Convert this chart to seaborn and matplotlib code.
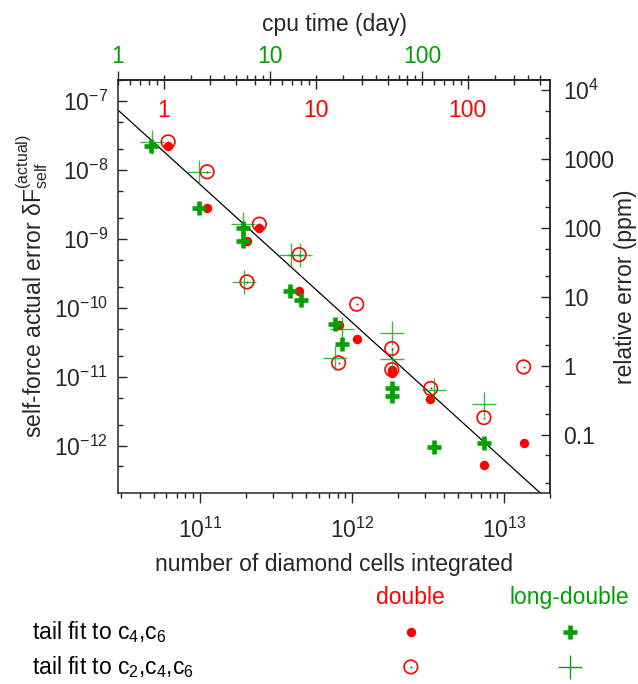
import matplotlib
matplotlib.use("Agg")
import matplotlib.pyplot as plt
import numpy as np
import seaborn as sns
from matplotlib.ticker import FixedLocator, FixedFormatter, LogLocator, LogFormatterMathtext, NullFormatter

# values: cells integrated vs. actual self-force error
ld_c46_cells = [4.74e10, 9.75e10, 1.91e11, 1.91e11, 3.91e11, 4.57e11, 7.73e11, 8.55e11, 1.82e12, 1.82e12, 3.43e12, 7.33e12]
ld_c46_err = [2.22e-8, 2.85e-9, 1.42e-9, 9.2e-10, 1.78e-10, 1.29e-10, 5.8e-11, 2.97e-11, 6.77e-12, 5.29e-12, 9.6e-13, 1.11e-12]

ld_c246_cells = [4.8e10, 9.75e10, 1.91e11, 1.93e11, 3.93e11, 4.5e11, 8.55e11, 7.66e11, 1.82e12, 1.82e12, 3.43e12, 7.33e12]
ld_c246_err = [2.56e-8, 9.42e-9, 1.64e-9, 2.38e-10, 5.92e-10, 5.92e-10, 4.96e-11, 1.88e-11, 4.25e-11, 1.84e-11, 6.54e-12, 4.09e-12]

d_c46_cells = [6.15e10, 1.11e11, 2.45e11, 2.03e11, 4.48e11, 8.13e11, 1.07e12, 1.82e12, 1.84e12, 3.26e12, 7.35e12, 1.34e13]
d_c46_err = [2.24e-8, 2.85e-9, 1.44e-9, 9.2e-10, 1.78e-10, 5.61e-11, 3.55e-11, 1.25e-11, 1.15e-11, 4.84e-12, 5.21e-13, 1.08e-12]

d_c246_cells = [6.15e10, 1.11e11, 2.45e11, 2.03e11, 4.48e11, 1.07e12, 8.13e11, 1.82e12, 1.82e12, 3.28e12, 7.35e12, 1.34e13]
d_c246_err = [2.56e-8, 9.42e-9, 1.64e-9, 2.38e-10, 5.92e-10, 1.13e-10, 1.59e-11, 2.57e-11, 1.27e-11, 6.77e-12, 2.56e-12, 1.39e-11]

# N^-2 reference line, two end points
line_cells = [2.88e10, 1.73e13]
line_err = [7.4e-8, 2.05e-13]

CELLS_PER_DAY_DOUBLE = 5.76e10
CELLS_PER_DAY_LONG = 2.88e10
ERR_PER_PPM = 1.45e-11

XLIM = (2.88e10, 2.0e13)
YLIM = (2.06e-13, 2.02e-7)

RED = "#ff0000"
GREEN = "#00a000"
FS = 16.5

sns.set_theme(style="ticks")
plt.rcParams["font.family"] = ["Liberation Sans", "DejaVu Sans"]
plt.rcParams["mathtext.fontset"] = "custom"
plt.rcParams["mathtext.rm"] = "Liberation Sans"
plt.rcParams["mathtext.it"] = "Liberation Sans:italic"
plt.rcParams["mathtext.bf"] = "Liberation Sans:bold"
plt.rcParams["axes.unicode_minus"] = False
plt.rcParams["axes.linewidth"] = 1.1
plt.rcParams["text.color"] = "black"

fig = plt.figure(figsize=(6.38, 6.84), dpi=100)
ax = fig.add_axes([0.185, 0.2792, 0.6771, 0.6038])
ax.set_xscale("log")
ax.set_yscale("log")

sns.lineplot(x=line_cells, y=line_err, color="black", linewidth=0.9, ax=ax)
sns.scatterplot(x=d_c246_cells, y=d_c246_err, marker="o", s=95, color=RED,
                facecolor="none", edgecolor=RED, linewidth=1.2, ax=ax, zorder=3)
sns.scatterplot(x=d_c246_cells, y=d_c246_err, marker="o", s=2, color=RED,
                linewidth=0, ax=ax, zorder=3)
sns.scatterplot(x=d_c46_cells, y=d_c46_err, marker="o", s=46, color=RED,
                linewidth=0, ax=ax, zorder=4)
sns.scatterplot(x=ld_c46_cells, y=ld_c46_err, marker="+", s=100, color=GREEN,
                linewidth=3.3, ax=ax, zorder=5)
sns.scatterplot(x=ld_c246_cells, y=ld_c246_err, marker="+", s=300, color=GREEN,
                linewidth=1.0, alpha=0.75, ax=ax, zorder=6)

ax.set_xlim(*XLIM)
ax.set_ylim(*YLIM)

# bottom axis
ax.xaxis.set_major_locator(FixedLocator([1e11, 1e12, 1e13]))
ax.xaxis.set_major_formatter(LogFormatterMathtext())
ax.xaxis.set_minor_locator(LogLocator(base=10, subs=np.arange(2, 10)))
ax.xaxis.set_minor_formatter(NullFormatter())
ax.tick_params(axis="x", which="both", direction="out", top=False, labelsize=FS, pad=11)
ax.tick_params(axis="x", which="major", length=7, width=1.0)
ax.tick_params(axis="x", which="minor", length=3.5, width=1.0)
ax.set_xlabel("number of diamond cells integrated", fontsize=FS, labelpad=7)

# left axis
ax.yaxis.set_major_locator(FixedLocator([1e-12, 1e-11, 1e-10, 1e-9, 1e-8, 1e-7]))
ax.yaxis.set_major_formatter(LogFormatterMathtext())
ax.yaxis.set_minor_locator(LogLocator(base=10, subs=(2, 5)))
ax.yaxis.set_minor_formatter(NullFormatter())
ax.tick_params(axis="y", which="both", direction="in", right=False, labelsize=FS, pad=7)
ax.tick_params(axis="y", which="major", length=6.5, width=1.0)
ax.tick_params(axis="y", which="minor", length=3.5, width=1.0)
ax.set_ylabel("self-force actual error δ$\\mathrm{F}_{\\mathrm{self}}^{\\mathrm{(actual)}}$",
              fontsize=FS, labelpad=3)

# right axis: relative error in ppm
rax = ax.secondary_yaxis("right", functions=(lambda f: np.asarray(f) / ERR_PER_PPM,
                                             lambda p: np.asarray(p) * ERR_PER_PPM))
rax.yaxis.set_major_locator(FixedLocator([0.1, 1, 10, 100, 1000, 1e4]))
rax.yaxis.set_major_formatter(FixedFormatter(["0.1", "1", "10", "100", "1000", "$10^4$"]))
rax.yaxis.set_minor_locator(LogLocator(base=10, subs=(2, 5)))
rax.yaxis.set_minor_formatter(NullFormatter())
rax.tick_params(which="both", direction="in", labelsize=FS, pad=9.5)
rax.tick_params(which="major", length=6.5, width=1.0)
rax.tick_params(which="minor", length=3.5, width=1.0)
rax.set_ylabel("relative error (ppm)", fontsize=FS, labelpad=0)

# top axes: cpu time, long-double outside (green), double inside (red)
day_ticks = [1, 10, 100]
day_labels = ["1", "10", "100"]

gax = ax.secondary_xaxis("top", functions=(lambda n: np.asarray(n) / CELLS_PER_DAY_LONG,
                                           lambda t: np.asarray(t) * CELLS_PER_DAY_LONG))
gax.xaxis.set_major_locator(FixedLocator(day_ticks))
gax.xaxis.set_major_formatter(FixedFormatter(day_labels))
gax.xaxis.set_minor_locator(LogLocator(base=10, subs=np.arange(2, 10)))
gax.xaxis.set_minor_formatter(NullFormatter())
gax.tick_params(which="both", direction="out", labelsize=FS, labelcolor=GREEN, pad=2.5)
gax.tick_params(which="major", length=6.5, width=1.0)
gax.tick_params(which="minor", length=3.5, width=1.0)
gax.set_xlabel("cpu time (day)", fontsize=FS, labelpad=10)

dax = ax.secondary_xaxis("top", functions=(lambda n: np.asarray(n) / CELLS_PER_DAY_DOUBLE,
                                           lambda t: np.asarray(t) * CELLS_PER_DAY_DOUBLE))
dax.xaxis.set_major_locator(FixedLocator(day_ticks))
dax.xaxis.set_major_formatter(FixedFormatter(day_labels))
dax.xaxis.set_minor_locator(LogLocator(base=10, subs=np.arange(2, 10)))
dax.xaxis.set_minor_formatter(NullFormatter())
dax.tick_params(which="both", direction="in", labelsize=FS, labelcolor=RED, pad=-30)
dax.tick_params(which="major", length=6.5, width=1.0)
dax.tick_params(which="minor", length=3.5, width=1.0)

# legend table below the plot
lax = fig.add_axes([0, 0, 1, 0.16])
lax.set_xlim(0, 1)
lax.set_ylim(0, 0.16)
lax.axis("off")
col_x = [0.644, 0.893]
row_y = [0.076, 0.025]
lax.text(col_x[0], 0.127, "double", color=RED, fontsize=FS, ha="center", va="center")
lax.text(col_x[1], 0.127, "long-double", color=GREEN, fontsize=FS, ha="center", va="center")
lax.text(0.05, row_y[0], "tail fit to c$_4$,c$_6$", fontsize=FS, ha="left", va="center")
lax.text(0.05, row_y[1], "tail fit to c$_2$,c$_4$,c$_6$", fontsize=FS, ha="left", va="center")
lax.scatter([col_x[0]], [row_y[0]], marker="o", s=46, color=RED, linewidths=0)
lax.scatter([col_x[0]], [row_y[1]], marker="o", s=95, facecolors="none", edgecolors=RED, linewidths=1.2)
lax.scatter([col_x[0]], [row_y[1]], marker="o", s=2, color=RED, linewidths=0)
lax.scatter([col_x[1]], [row_y[0]], marker="+", s=100, color=GREEN, linewidths=3.3)
lax.scatter([col_x[1]], [row_y[1]], marker="+", s=300, color=GREEN, linewidths=1.0)

fig.savefig("out.png", dpi=100)
